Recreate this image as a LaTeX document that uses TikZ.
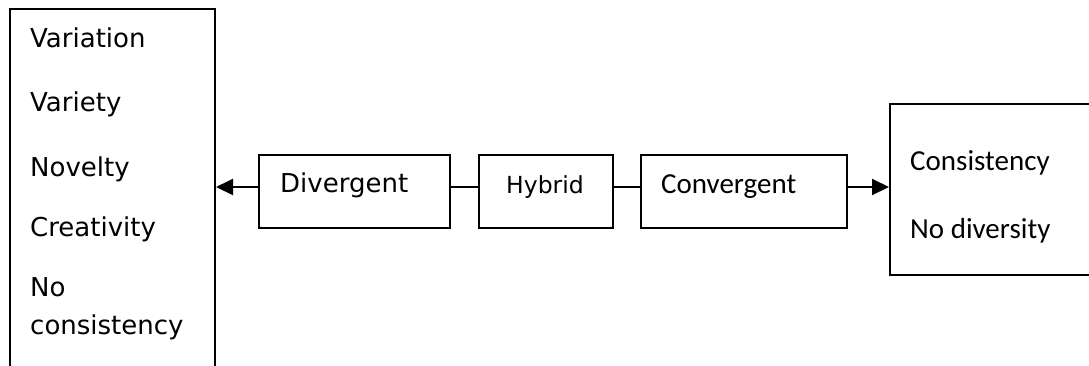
\documentclass[tikz,border=0pt]{standalone}
\usepackage{fontspec}
\setmainfont{DejaVu Sans}
\newfontfamily\calibri{Carlito}
\usetikzlibrary{arrows.meta}

\tikzset{
  frame/.style={draw=black, line width=2pt, rectangle, inner sep=0pt, anchor=north west},
  verd/.style={anchor=base west, inner sep=0pt, font=\fontsize{26}{30}\selectfont},
  verdsmall/.style={anchor=base west, inner sep=0pt, font=\fontsize{23.5}{27}\selectfont},
  cal/.style={anchor=base west, inner sep=0pt, font=\calibri\fontsize{29}{34}\selectfont},
  link/.style={draw=black, line width=2pt},
  arr/.style={link, -{Triangle[length=17pt,width=16pt]}}
}

\begin{document}
\begin{tikzpicture}[x=1pt, y=-1pt]
  \useasboundingbox (0,0) rectangle (1089,365);
  \clip (0,0) rectangle (1089,365);
  \fill[white] (0,0) rectangle (1089,365);

  % outcome boxes (both run past the page edge)
  \node[frame, minimum width=205pt, minimum height=400pt] (divout) at (9,8) {};
  \node[frame, minimum width=260pt, minimum height=171pt] (conout) at (889,103) {};

  % process boxes
  \node[frame, minimum width=191pt, minimum height=73pt] (div) at (258,154) {};
  \node[frame, minimum width=134pt, minimum height=73pt] (hyb) at (478,154) {};
  \node[frame, minimum width=206pt, minimum height=73pt] (con) at (640,154) {};

  % left list
  \node[verd] (t1) at (30,47) {Variation};
  \node[verd] (t2) at (30,111) {Variety};
  \node[verd] (t3) at (30,176) {Novelty};
  \node[verd] (t4) at (30,236) {Creativity};
  \node[verd] (t5) at (30,296) {No};
  \node[verd] (t6) at (30,334) {consistency};

  % box labels
  \node[verd] (ldiv) at (280,192) {Divergent};
  \node[verdsmall] (lhyb) at (506,193) {Hybrid};
  \node[cal] (lcon) at (661,193) {Convergent};

  % right list
  \node[cal] (r1) at (910,170) {Consistency};
  \node[cal] (r2) at (910,238) {No diversity};

  % connectors
  \coordinate (lane) at (0,187);
  \draw[arr] (div.west |- lane) -- (divout.east |- lane);
  \draw[link] (div.east |- lane) -- (hyb.west |- lane);
  \draw[link] (hyb.east |- lane) -- (con.west |- lane);
  \draw[arr] (con.east |- lane) -- (conout.west |- lane);
\end{tikzpicture}
\end{document}
